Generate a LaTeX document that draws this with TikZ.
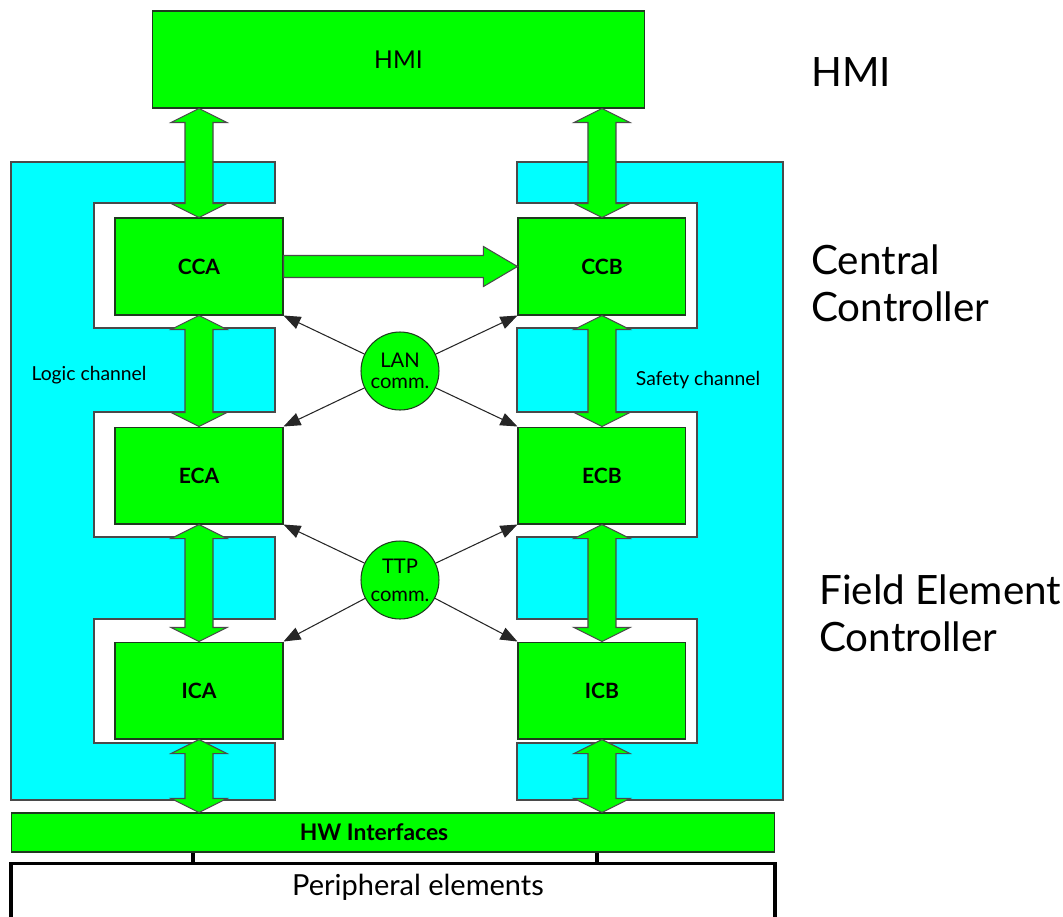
\documentclass[tikz,border=0pt]{standalone}
\usepackage{fontspec}
\setmainfont{Lato}
\usetikzlibrary{arrows.meta, positioning, calc}
\definecolor{boxgreen}{HTML}{00FF00}
\definecolor{chancyan}{HTML}{00FFFF}
\definecolor{edgegray}{HTML}{4A4A4A}
\definecolor{boxedge}{HTML}{1F3A1F}

% vertical block arrow with a head at both ends, #1 = upper tip, #2 = lower tip
\newcommand{\dblarrow}[2]{%
  \draw[blockarrow] (#1) -- ++(28,14) -- ++(-14,0) -- ($(#2)+(14,-14)$) -- ++(14,0)
    -- (#2) -- ++(-28,-14) -- ++(14,0) -- ($(#1)+(-14,14)$) -- ++(-14,0) -- cycle;}

\begin{document}
\begin{tikzpicture}[
    x=0.02cm, y=-0.02cm,
    % --- node styles ---
    unit/.style={
        rectangle, minimum width=3.36cm, minimum height=1.94cm, inner sep=0pt,
        draw=boxedge, line width=0.6pt, fill=boxgreen,
        font=\fontsize{12}{14}\selectfont\bfseries
    },
    channel/.style={fill=chancyan, draw=edgegray, line width=0.8pt},
    commnode/.style={
        circle, minimum size=1.56cm, inner sep=0pt, align=center,
        draw=boxedge, line width=0.6pt, fill=boxgreen,
        font=\fontsize{11.5}{12}\selectfont
    },
    sidelabel/.style={anchor=west, align=left, inner sep=0pt, font=\fontsize{23}{27}\selectfont},
    chanlabel/.style={inner sep=0pt, font=\fontsize{11}{13}\selectfont},
    blockarrow/.style={fill=boxgreen, draw=edgegray, line width=0.6pt, line join=miter},
    commarrow/.style={-{Triangle[length=0.34cm, width=0.26cm]}, line width=0.6pt, draw=black!85},
    link/.style={line width=2.2pt, draw=black},
]
\useasboundingbox (0,0) rectangle (1063,917);

% ===== CHANNELS =====
\draw[channel] (11,162) -- (275,162) -- (275,203) -- (94,203) -- (94,328) -- (275,328)
    -- (275,412) -- (94,412) -- (94,537) -- (275,537) -- (275,619) -- (94,619)
    -- (94,743) -- (275,743) -- (275,800) -- (11,800) -- cycle;
\draw[channel] (517,162) -- (783,162) -- (783,800) -- (517,800) -- (517,743) -- (697,743)
    -- (697,619) -- (517,619) -- (517,537) -- (697,537) -- (697,412) -- (517,412)
    -- (517,328) -- (697,328) -- (697,203) -- (517,203) -- cycle;

\node[chanlabel] (logiclbl) at (89,375) {Logic channel};
\node[chanlabel] (safetylbl) at (698,380) {Safety channel};

% ===== HMI =====
\node[unit, minimum width=9.86cm, font=\fontsize{14}{16}\selectfont] (hmi) at (398.5,59.5) {HMI};

% ===== CONTROLLERS =====
\node[unit] (cca) at (199,266.5) {CCA};
\node[unit, below=2.22cm of cca] (eca) {ECA};
\node[unit, below=2.34cm of eca] (ica) {ICA};

\node[unit, right=4.68cm of cca] (ccb) {CCB};
\node[unit, right=4.68cm of eca] (ecb) {ECB};
\node[unit, right=4.68cm of ica] (icb) {ICB};

% ===== COMMUNICATION =====
\node[commnode] (lan) at (400,371) {LAN\\comm.};
\node[commnode] (ttp) at (400,580) {TTP\\[4pt]comm.};

% ===== HW / PERIPHERAL =====
\node[unit, minimum width=15.28cm, minimum height=0.78cm,
    label={[xshift=-0.38cm, font=\fontsize{13}{15}\selectfont\bfseries]center:HW Interfaces}]
    (hwif) at (393,832.5) {};
\node[rectangle, draw=black, line width=1.8pt, fill=white, inner sep=0pt,
    minimum width=15.28cm, minimum height=1.1cm] (periph) at (393,891) {};
\node[font=\fontsize{16.5}{18}\selectfont] (periphtext) at ($(periph.north)+(25,25)$) {Peripheral elements};

\draw[link] ($(hwif.south -| ica.south)+(-6,0)$) -- ($(periph.north -| ica.south)+(-6,0)$);
\draw[link] ($(hwif.south -| icb.south)+(-5,0)$) -- ($(periph.north -| icb.south)+(-5,0)$);

% ===== BLOCK ARROWS =====
\coordinate (hmil) at (hmi.south -| cca.north);
\coordinate (hmir) at (hmi.south -| ccb.north);
\coordinate (hwl) at (hwif.north -| ica.south);
\coordinate (hwr) at (hwif.north -| icb.south);

\dblarrow{hmil}{cca.north}
\dblarrow{hmir}{ccb.north}
\dblarrow{cca.south}{eca.north}
\dblarrow{ccb.south}{ecb.north}
\dblarrow{eca.south}{ica.north}
\dblarrow{ecb.south}{icb.north}
\dblarrow{ica.south}{hwl}
\dblarrow{icb.south}{hwr}

\draw[blockarrow] ($(cca.east)+(0,-11)$) -- ($(ccb.west)+(-34,-11)$) -- ++(0,-9) -- (ccb.west)
    -- ($(ccb.west)+(-34,20)$) -- ++(0,-9) -- ($(cca.east)+(0,11)$) -- cycle;

% LAN links
\draw[commarrow] (lan) -- (cca.south east);
\draw[commarrow] (lan) -- (ccb.south west);
\draw[commarrow] (lan) -- (eca.north east);
\draw[commarrow] (lan) -- (ecb.north west);

% TTP links
\draw[commarrow] (ttp) -- (eca.south east);
\draw[commarrow] (ttp) -- (ecb.south west);
\draw[commarrow] (ttp) -- (ica.north east);
\draw[commarrow] (ttp) -- (icb.north west);

% ===== LEVEL LABELS =====
\node[sidelabel] (hmilbl) at (811,72) {HMI};
\node[sidelabel] (cclbl) at (811,283) {Central\\Controller};
\node[sidelabel] (feclbl) at (819,613) {Field Element\\Controller};

\end{tikzpicture}
\end{document}
